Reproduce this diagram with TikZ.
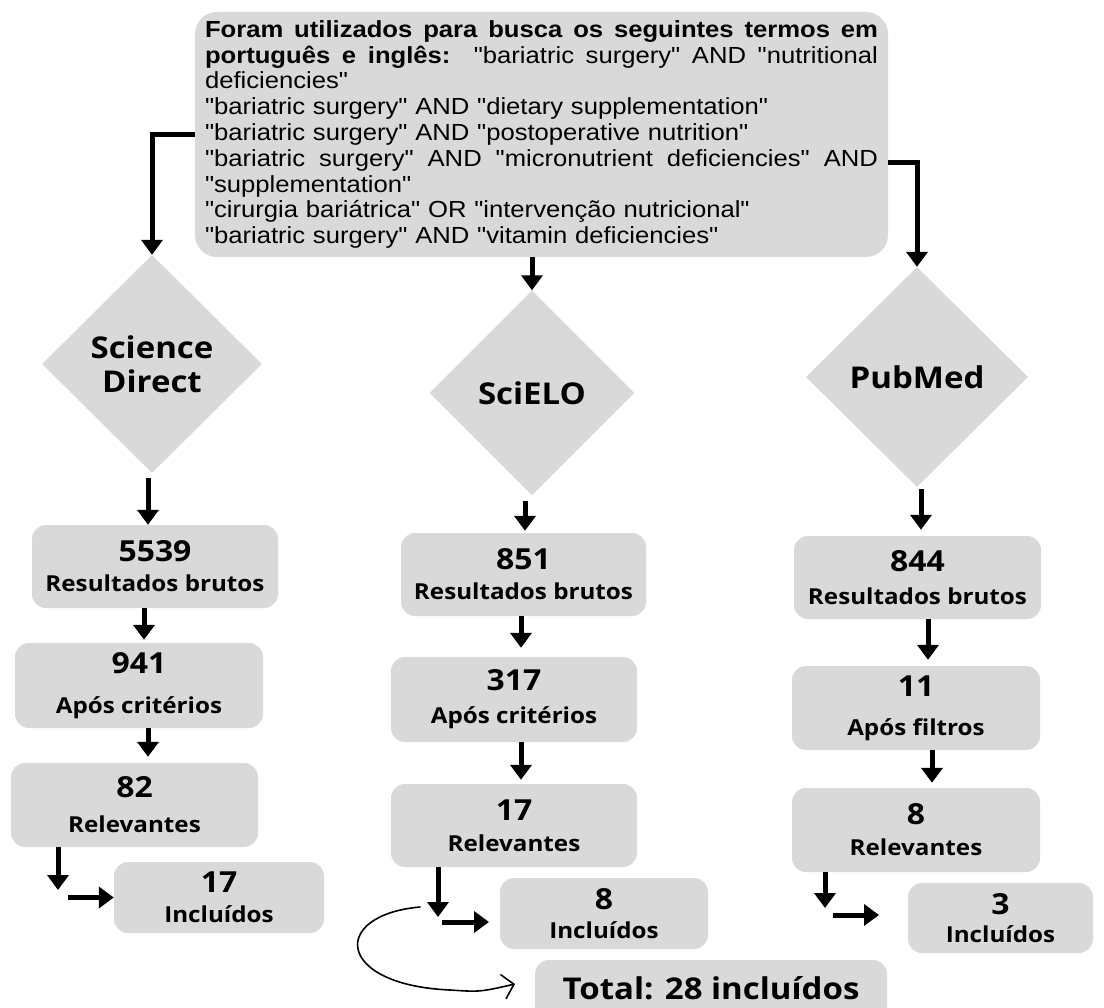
\documentclass[tikz,border=0pt]{standalone}
\usepackage{fontspec}
\usetikzlibrary{arrows.meta,shapes.geometric}
\setmainfont[FakeStretch=1.1]{Open Sans}
\newfontfamily\termfont[FakeStretch=1.1]{Liberation Sans}
\definecolor{cinza}{HTML}{D9D9D9}
\newlength\termw
\setlength\termw{673pt}
% number, then label; optional extra gap between the two lines
\newcommand\caixatexto[3][0]{{\fontsize{29}{30}\selectfont #2}\\[#1pt]#3}
\newcommand\linhacheia[1]{\makebox[\termw][s]{\spaceskip=0pt\xspaceskip=0pt #1}}
\tikzset{
	caixa/.style={rectangle, rounded corners=14pt, fill=cinza, inner sep=0pt, align=center, font=\bfseries\fontsize{22}{30}\selectfont},
	losango/.style={diamond, fill=cinza, inner sep=0pt, align=center, font=\bfseries\fontsize{30}{34}\selectfont},
	seta/.style={line width=5pt, -{Triangle[width=21pt,length=15pt]}},
	curva/.style={line width=1.6pt, line cap=round, -{Straight Barb[width=25pt,length=11pt,line width=1.6pt]}}
}

\begin{document}
\begin{tikzpicture}[x=1pt,y=-1pt]
		%%%%% START %%%%%
		\useasboundingbox (0,0) rectangle (1104,1008);
		\clip (0,0) rectangle (1104,1008);
		
		\node[rectangle, rounded corners=22pt, fill=cinza, text width=\termw, inner xsep=10pt, inner ysep=0pt, minimum height=245pt, font=\termfont\fontsize{23.3}{25.8}\selectfont] (termos) at (541.5,134.5) {%
			\linhacheia{\bfseries Foram utilizados para busca os seguintes termos em}\\
			\linhacheia{\textbf{português e inglês:}\ \ "bariatric surgery" AND "nutritional}\\
			deficiencies"\\
			"bariatric surgery" AND "dietary supplementation"\\
			"bariatric surgery" AND "postoperative nutrition"\\
			\linhacheia{"bariatric surgery" AND "micronutrient deficiencies" AND}\\
			"supplementation"\\
			"cirurgia bariátrica" OR "intervenção nutricional"\\
			"bariatric surgery" AND "vitamin deficiencies"};
		
		\node[losango, minimum width=220pt, minimum height=218pt] (sd) at (152,364) {Science\\Direct};
		\node[losango, minimum width=205pt, minimum height=205pt] (sc) at (532,393) {SciELO};
		\node[losango, minimum width=222pt, minimum height=220pt] (pm) at (917,377) {PubMed};
		
		\draw[seta] (termos.west) -| (sd.north);
		\draw[seta] (termos.south -| sc.north) -- (sc.north);
		\draw[seta] ([yshift=-28.5pt]termos.east) -| (pm.north);
		
		% Science Direct
		\node[caixa, minimum width=246pt, minimum height=83pt] (r1) at (155,566.5) {\caixatexto{5539}{Resultados brutos}};
		\node[caixa, minimum width=248pt, minimum height=85pt] (a1) at (139,685.5) {\caixatexto[10]{941}{Após critérios}};
		\node[caixa, minimum width=247pt, minimum height=84pt] (v1) at (134.5,805) {\caixatexto[5]{82}{Relevantes}};
		\node[caixa, minimum width=210pt, minimum height=71pt] (i1) at (219,897.5) {\caixatexto{17}{Incluídos}};
		
		% SciELO
		\node[caixa, minimum width=245pt, minimum height=83pt] (r2) at (523.5,574.5) {\caixatexto{851}{Resultados brutos}};
		\node[caixa, minimum width=246pt, minimum height=85pt] (a2) at (514,699.5) {\caixatexto[3]{317}{Após critérios}};
		\node[caixa, minimum width=246pt, minimum height=83pt] (v2) at (514,825.5) {\caixatexto[1]{17}{Relevantes}};
		\node[caixa, minimum width=208pt, minimum height=71pt] (i2) at (604,913.5) {\caixatexto[-1]{8}{Incluídos}};
		
		% PubMed
		\node[caixa, minimum width=247pt, minimum height=83pt] (r3) at (917.5,577.5) {\caixatexto[3]{844}{Resultados brutos}};
		\node[caixa, minimum width=248pt, minimum height=84pt] (a3) at (916,708) {\caixatexto[9]{11}{Após filtros}};
		\node[caixa, minimum width=248pt, minimum height=84pt] (v3) at (916,830) {\caixatexto[1]{8}{Relevantes}};
		\node[caixa, minimum width=185pt, minimum height=70pt] (i3) at (1000.5,918) {\caixatexto[-2]{3}{Incluídos}};
		
		\node[caixa, minimum width=352pt, minimum height=90pt, text height=24pt, text depth=36pt, font=\bfseries\fontsize{30}{34}\selectfont] (total) at (711,1005) {Total: 28 incluídos};
		
		\draw[seta, shorten <=5pt] (sd.south -| 148,0) -- (r1.north -| 148,0);
		\draw[seta, shorten >=3pt] (r1.south -| 144,0) -- (a1.north -| 144,0);
		\draw[seta, shorten >=6pt] (a1.south -| 148,0) -- (v1.north -| 148,0);
		
		\draw[seta, shorten <=5pt, shorten >=2pt] (sc.south -| 525,0) -- (r2.north -| 525,0);
		\draw[seta, shorten >=9pt] (r2.south -| 521,0) -- (a2.north -| 521,0);
		\draw[seta, shorten >=4pt] (a2.south -| 521,0) -- (v2.north -| 521,0);
		
		\draw[seta, shorten <=2pt, shorten >=6pt] (pm.south -| 921,0) -- (r3.north -| 921,0);
		\draw[seta, shorten >=6pt] (r3.south -| 928,0) -- (a3.north -| 928,0);
		\draw[seta, shorten >=5pt] (a3.south -| 932,0) -- (v3.north -| 932,0);
		
		\coordinate (d1) at (58,890);
		\coordinate (h1) at (68,897.5);
		\coordinate (d2) at (438,917);
		\coordinate (h2) at (442,922);
		\coordinate (h2b) at (489,922);
		\coordinate (d3) at (825,908);
		\coordinate (h3) at (833,915);
		\coordinate (h3b) at (879,915);
		
		\draw[seta] (v1.south -| d1) -- (d1);
		\draw[seta] (h1) -- (i1.west);
		\draw[seta] (v2.south -| d2) -- (d2);
		\draw[seta] (h2) -- (h2b);
		\draw[seta] (v3.south -| d3) -- (d3);
		\draw[seta] (h3) -- (h3b);
		
		\coordinate (c0) at (420,907);
		\draw[curva] (c0) .. controls (330,915) and (335,985) .. (450,990) .. controls (480,992) .. (515,984);
		
		%%%%% END %%%%%
\end{tikzpicture}
\end{document}
